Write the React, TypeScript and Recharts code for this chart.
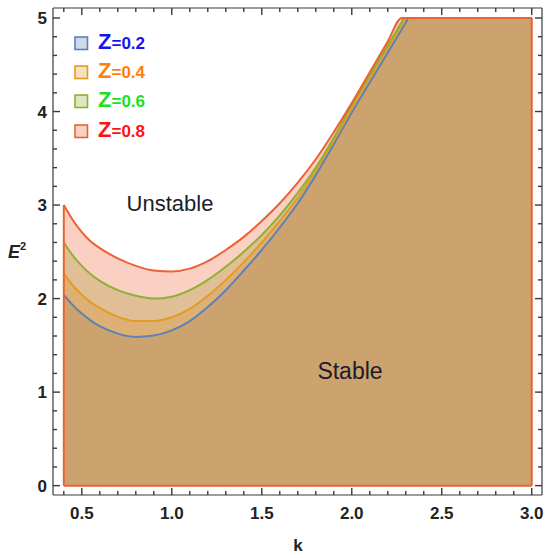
import { ComposedChart, Area, Line, XAxis, YAxis, ReferenceLine } from 'recharts'

// wave number k (x), shared by all four curves
const K = [0.4, 0.45, 0.5, 0.55, 0.6, 0.7, 0.8, 0.9, 1.0, 1.1, 1.2, 1.3, 1.4, 1.5, 1.6, 1.7, 1.8, 1.9, 2.0, 2.1, 2.2, 2.278, 2.29, 2.3, 2.314, 3.0]

// E^2 stability boundary per Z (capped at 5)
const Z02 = [2.04, 1.93, 1.84, 1.765, 1.705, 1.625, 1.59, 1.605, 1.66, 1.76, 1.91, 2.09, 2.30, 2.52, 2.76, 3.02, 3.32, 3.65, 3.99, 4.31, 4.63, 4.88, 4.92, 4.95, 5, 5]
const Z04 = [2.27, 2.14, 2.04, 1.96, 1.90, 1.805, 1.76, 1.76, 1.80, 1.89, 2.03, 2.20, 2.39, 2.60, 2.83, 3.08, 3.37, 3.69, 4.03, 4.36, 4.68, 4.93, 4.97, 5, 5, 5]
const Z06 = [2.60, 2.46, 2.35, 2.26, 2.19, 2.09, 2.03, 2.00, 2.02, 2.09, 2.20, 2.34, 2.50, 2.68, 2.89, 3.13, 3.40, 3.72, 4.07, 4.39, 4.71, 4.96, 5, 5, 5, 5]
const Z08 = [3.00, 2.84, 2.71, 2.61, 2.54, 2.43, 2.35, 2.30, 2.29, 2.32, 2.40, 2.52, 2.66, 2.83, 3.02, 3.24, 3.49, 3.78, 4.09, 4.42, 4.75, 5, 5, 5, 5, 5]

const X_TICKS = [0.4, 0.5, 0.6, 0.7, 0.8, 0.9, 1.0, 1.1, 1.2, 1.3, 1.4, 1.5, 1.6, 1.7, 1.8, 1.9, 2.0, 2.1, 2.2, 2.3, 2.4, 2.5, 2.6, 2.7, 2.8, 2.9, 3.0]
const Y_TICKS = [0, 0.2, 0.4, 0.6, 0.8, 1, 1.2, 1.4, 1.6, 1.8, 2, 2.2, 2.4, 2.6, 2.8, 3, 3.2, 3.4, 3.6, 3.8, 4, 4.2, 4.4, 4.6, 4.8, 5]

const SERIES = [
  { key: 'z02', label: '0.2', values: Z02, color: '#5E81B5', text: '#1414F0' },
  { key: 'z04', label: '0.4', values: Z04, color: '#E19C24', text: '#FF7F0A' },
  { key: 'z06', label: '0.6', values: Z06, color: '#8FB032', text: '#1EE01E' },
  { key: 'z08', label: '0.8', values: Z08, color: '#EB6235', text: '#FF1212' },
]

const data = K.map((k, i) => {
  const row: Record<string, number> = { k }
  SERIES.forEach(s => { row[s.key] = s.values[i] })
  return row
})

const FRAME = '#3a3a3a'
const FONT = '"Liberation Sans", Arial, sans-serif'
const X_DOMAIN = [0.34, 3.057]
const Y_DOMAIN = [-0.1, 5.107]

const isMajorX = (v: number) => Math.abs(v * 2 - Math.round(v * 2)) < 1e-6
const isMajorY = (v: number) => Math.abs(v - Math.round(v)) < 1e-6

// Mathematica-style frame ticks point inward
function BottomTick({ x, y, payload }: any) {
  const major = isMajorX(payload.value)
  return (
    <g>
      <line x1={x} y1={y} x2={x} y2={y - (major ? 7 : 4)} stroke={FRAME} strokeWidth={1.4} />
      {major && (
        <text x={x} y={y + 24} textAnchor="middle" fontSize={17} fontWeight="bold" fill="#222" fontFamily={FONT}>
          {payload.value.toFixed(1)}
        </text>
      )}
    </g>
  )
}

function TopTick({ x, y, payload }: any) {
  const major = isMajorX(payload.value)
  return <line x1={x} y1={y} x2={x} y2={y + (major ? 7 : 4)} stroke={FRAME} strokeWidth={1.4} />
}

function LeftTick({ x, y, payload }: any) {
  const major = isMajorY(payload.value)
  return (
    <g>
      <line x1={x} y1={y} x2={x + (major ? 7 : 4)} y2={y} stroke={FRAME} strokeWidth={1.4} />
      {major && (
        <text x={x - 6} y={y + 6} textAnchor="end" fontSize={17} fontWeight="bold" fill="#222" fontFamily={FONT}>
          {payload.value}
        </text>
      )}
    </g>
  )
}

function RightTick({ x, y, payload }: any) {
  const major = isMajorY(payload.value)
  return <line x1={x} y1={y} x2={x - (major ? 7 : 4)} y2={y} stroke={FRAME} strokeWidth={1.4} />
}

function Overlay() {
  const rowY = [43, 72, 101, 131]
  return (
    <svg width={550} height={558} style={{ position: 'absolute', left: 0, top: 0, pointerEvents: 'none' }}>
      {SERIES.map((s, i) => (
        <g key={s.key}>
          <rect x={75} y={rowY[i] - 6} width={12.5} height={12.5} fill={s.color} fillOpacity={0.3} stroke={s.color} strokeWidth={1.6} />
          <text x={98} y={rowY[i] + 6} fill={s.text} fontFamily={FONT} fontWeight="bold">
            <tspan fontSize={22}>Z</tspan>
            <tspan fontSize={17}>={s.label}</tspan>
          </text>
        </g>
      ))}
      <text x={170} y={211} textAnchor="middle" fontSize={22} fill="#1c1c2a" fontFamily={FONT}>Unstable</text>
      <text x={350} y={379} textAnchor="middle" fontSize={23} fill="#1c1c2a" fontFamily={FONT}>Stable</text>
      <text x={8} y={258} fontSize={18} fontStyle="italic" fontWeight="bold" fill="#222" fontFamily={FONT}>
        E<tspan fontSize={11} dy={-8} fontStyle="normal">2</tspan>
      </text>
      <text x={298} y={551} textAnchor="middle" fontSize={17} fontWeight="bold" fill="#222" fontFamily={FONT}>k</text>
    </svg>
  )
}

const axisCommon = {
  type: 'number' as const,
  allowDataOverflow: true,
  interval: 0 as const,
  tickSize: 0,
  tickMargin: 0,
  tickLine: false,
  axisLine: { stroke: FRAME, strokeWidth: 1.2 },
}

export default function App() {
  const edge = SERIES[3].color
  const kMin = K[0]
  const kMax = K[K.length - 1]
  return (
    <div style={{ position: 'absolute', left: 0, top: 0, width: 550, height: 558, background: '#fff' }}>
      <ComposedChart width={550} height={558} data={data} margin={{ top: 7, right: 7, bottom: 33, left: 23 }}>
        <XAxis {...axisCommon} dataKey="k" domain={X_DOMAIN} ticks={X_TICKS} height={30} tick={<BottomTick />} />
        <XAxis {...axisCommon} xAxisId="top" orientation="top" dataKey="k" domain={X_DOMAIN} ticks={X_TICKS} height={1} tick={<TopTick />} />
        <YAxis {...axisCommon} domain={Y_DOMAIN} ticks={Y_TICKS} width={30} tick={<LeftTick />} />
        <YAxis {...axisCommon} yAxisId="right" orientation="right" domain={Y_DOMAIN} ticks={Y_TICKS} width={1} tick={<RightTick />} />
        {SERIES.map(s => (
          <Area
            key={s.key + '-fill'}
            type="monotone"
            dataKey={s.key}
            stroke="none"
            fill={s.color}
            fillOpacity={0.3}
            baseValue={0}
            dot={false}
            activeDot={false}
            isAnimationActive={false}
          />
        ))}
        {SERIES.map(s => (
          <Line
            key={s.key + '-line'}
            type="monotone"
            dataKey={s.key}
            stroke={s.color}
            strokeWidth={2}
            dot={false}
            activeDot={false}
            isAnimationActive={false}
          />
        ))}
        <ReferenceLine segment={[{ x: kMin, y: 0 }, { x: kMin, y: Z08[0] }]} stroke={edge} strokeWidth={2} />
        <ReferenceLine segment={[{ x: kMin, y: 0 }, { x: kMax, y: 0 }]} stroke={edge} strokeWidth={2} />
        <ReferenceLine segment={[{ x: kMax, y: 0 }, { x: kMax, y: Z08[Z08.length - 1] }]} stroke={edge} strokeWidth={2} />
      </ComposedChart>
      <Overlay />
    </div>
  )
}
